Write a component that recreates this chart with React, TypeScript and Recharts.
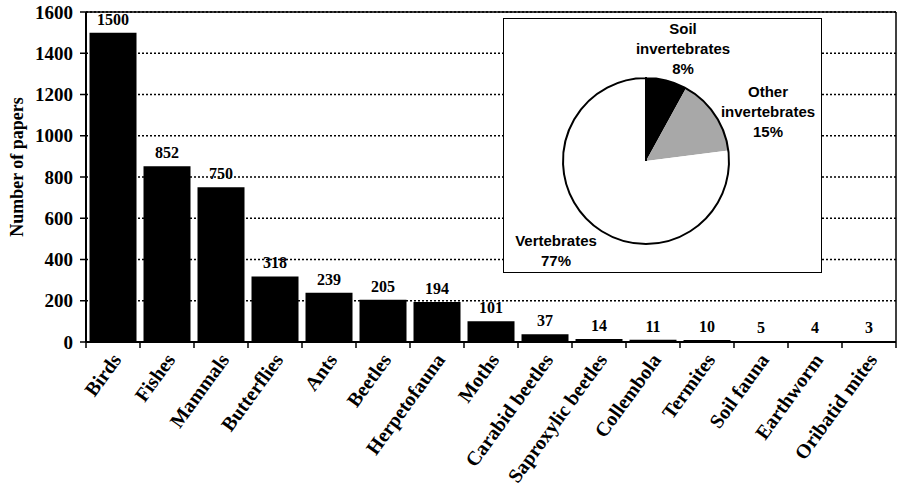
import React from "react";
import {
  BarChart,
  Bar,
  XAxis,
  YAxis,
  CartesianGrid,
  LabelList,
  PieChart,
  Pie,
  Cell,
} from "recharts";

const categories = [
  "Birds",
  "Fishes",
  "Mammals",
  "Butterflies",
  "Ants",
  "Beetles",
  "Herpetofauna",
  "Moths",
  "Carabid beetles",
  "Saproxylic beetles",
  "Collembola",
  "Termites",
  "Soil fauna",
  "Earthworm",
  "Oribatid mites",
];
const papers = [1500, 852, 750, 318, 239, 205, 194, 101, 37, 14, 11, 10, 5, 4, 3];
const yTicks = [0, 200, 400, 600, 800, 1000, 1200, 1400, 1600];

const pieNames = ["Soil invertebrates", "Other invertebrates", "Vertebrates"];
const pieLines = [["Soil", "invertebrates"], ["Other", "invertebrates"], ["Vertebrates"]];
const pieValues = [8, 15, 77];
const pieColors = ["#000000", "#a8a8a8", "#ffffff"];

const barData = categories.map((c, i) => ({ name: c, value: papers[i] }));
const pieData = pieNames.map((n, i) => ({ name: n, value: pieValues[i] }));
const outlineData = [{ name: "all", value: pieValues.reduce((a, b) => a + b, 0) }];

const SERIF = "'Liberation Serif', 'Times New Roman', serif";
const SANS = "'Liberation Sans', Arial, sans-serif";

// label block offsets relative to pie centre (styling only)
const labelOffsets = [
  { dx: 37, dy: -127 },
  { dx: 122, dy: -64 },
  { dx: -90, dy: 85 },
];

const XTick = (props: any) => {
  const { x, y, payload, index } = props;
  const half = payload && payload.offset ? payload.offset : 27;
  const last = index === categories.length - 1;
  return (
    <g>
      <line x1={x - half} x2={x - half} y1={y - 8} y2={y - 2} stroke="#000" strokeWidth={1.5} />
      {last && (
        <line x1={x + half} x2={x + half} y1={y - 8} y2={y - 2} stroke="#000" strokeWidth={1.5} />
      )}
      <g transform={`translate(${x + 9},${y + 10})`}>
        <text
          x={0}
          y={0}
          textAnchor="end"
          transform="rotate(-54)"
          fontFamily={SERIF}
          fontWeight="bold"
          fontSize={20}
          fill="#000"
        >
          {payload.value}
        </text>
      </g>
    </g>
  );
};

const PieLabel = (props: any) => {
  const { cx, cy, index, value } = props;
  const off = labelOffsets[index];
  const lines = [...pieLines[index], `${value}%`];
  return (
    <text
      x={cx + off.dx}
      y={cy + off.dy}
      textAnchor="middle"
      fontFamily={SANS}
      fontWeight="bold"
      fontSize={15}
      fill="#000"
    >
      {lines.map((l, i) => (
        <tspan key={i} x={cx + off.dx} dy={i === 0 ? 0 : 20}>
          {l}
        </tspan>
      ))}
    </text>
  );
};

export default function App() {
  return (
    <div style={{ position: "absolute", left: 0, top: 0, width: 904, height: 498, background: "#fff" }}>
      <BarChart
        width={904}
        height={498}
        data={barData}
        margin={{ top: 12, right: 8, left: 0, bottom: 0 }}
        barCategoryGap="6.5%"
      >
        <CartesianGrid vertical={false} stroke="#000" strokeWidth={1.5} strokeDasharray="2 2" />
        <CartesianGrid
          stroke="#000"
          strokeWidth={1.5}
          horizontalCoordinatesGenerator={(p: any) => [p.offset.top]}
          verticalCoordinatesGenerator={(p: any) => [p.offset.left + p.offset.width]}
        />
        <XAxis
          dataKey="name"
          interval={0}
          height={156}
          axisLine={{ stroke: "#000", strokeWidth: 2 }}
          tickLine={false}
          tickSize={6}
          tickMargin={2}
          tick={<XTick />}
        />
        <YAxis
          domain={[0, 1600]}
          ticks={yTicks}
          interval={0}
          width={86}
          axisLine={{ stroke: "#000", strokeWidth: 2 }}
          tickLine={{ stroke: "#000", strokeWidth: 1.5 }}
          tickSize={6}
          tickMargin={7}
          tick={{ fontFamily: SERIF, fontWeight: "bold", fontSize: 19, fill: "#000" }}
          label={{
            content: (p: any) => {
              const vb = p.viewBox || { x: 0, y: 12, height: 330 };
              const lx = vb.x + 23;
              const ly = vb.y + vb.height / 2 - 10;
              return (
                <text
                  x={lx}
                  y={ly}
                  textAnchor="middle"
                  transform={`rotate(-90, ${lx}, ${ly})`}
                  fontFamily={SERIF}
                  fontWeight="bold"
                  fontSize={18}
                  fill="#000"
                >
                  Number of papers
                </text>
              );
            },
          }}
        />
        <Bar dataKey="value" fill="#000" isAnimationActive={false}>
          <LabelList
            dataKey="value"
            position="top"
            offset={8}
            style={{ fontFamily: SERIF, fontWeight: "bold", fontSize: 16, fill: "#000" }}
          />
        </Bar>
      </BarChart>
      <div
        style={{
          position: "absolute",
          left: 503,
          top: 18,
          width: 317,
          height: 253,
          border: "1.5px solid #000",
          background: "#fff",
        }}
      >
        <PieChart width={317} height={253} margin={{ top: 0, right: 0, bottom: 0, left: 0 }}>
          <Pie
            data={pieData}
            dataKey="value"
            nameKey="name"
            cx={142}
            cy={142}
            outerRadius={83}
            startAngle={90}
            endAngle={-270}
            stroke="none"
            isAnimationActive={false}
            label={<PieLabel />}
            labelLine={false}
          >
            {pieData.map((d, i) => (
              <Cell key={d.name} fill={pieColors[i]} stroke="none" />
            ))}
          </Pie>
          <Pie
            data={outlineData}
            dataKey="value"
            cx={142}
            cy={142}
            outerRadius={83}
            startAngle={90}
            endAngle={-270}
            fill="none"
            stroke="#000"
            strokeWidth={2}
            isAnimationActive={false}
            label={false}
            labelLine={false}
          />
        </PieChart>
      </div>
    </div>
  );
}
